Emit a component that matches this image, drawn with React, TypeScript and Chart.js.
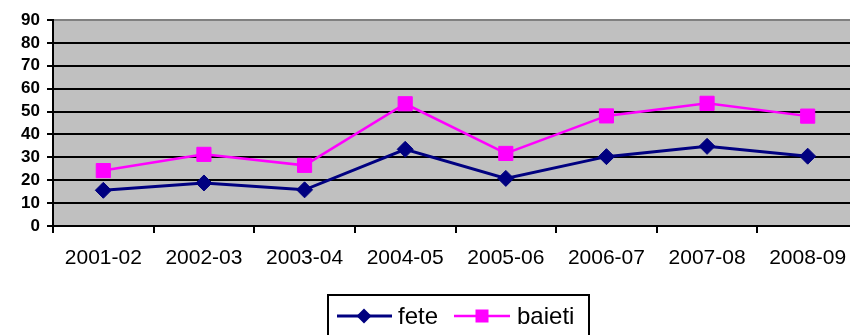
import React, { useEffect, useRef } from "react";
import { Chart, registerables } from "chart.js";

Chart.register(...registerables);

const categories = ["2001-02", "2002-03", "2003-04", "2004-05", "2005-06", "2006-07", "2007-08", "2008-09"];
const feteValues = [15.6, 18.8, 15.8, 33.5, 20.8, 30.3, 34.8, 30.5];
const baietiValues = [24.2, 31.3, 26.5, 53.4, 31.7, 48.1, 53.6, 48.0];
const seriesLabels = ["fete", "baieti"];
const yTicks = { min: 0, max: 90, step: 10 };

const FONT = "'Liberation Sans', Arial, sans-serif";
const NAVY = "#000080";
const MAGENTA = "#FF00FF";

const bgPlugin = {
  id: "plotBg",
  beforeDraw(chart: any) {
    const { ctx, chartArea } = chart;
    ctx.save();
    ctx.fillStyle = "#C0C0C0";
    ctx.fillRect(chartArea.left, chartArea.top, chartArea.right - chartArea.left, chartArea.bottom - chartArea.top);
    ctx.restore();
  },
};

const legendPlugin = {
  id: "boxLegend",
  afterDraw(chart: any) {
    const ctx = chart.ctx;
    const ds = chart.data.datasets;
    ctx.save();
    ctx.strokeStyle = "#000";
    ctx.lineWidth = 2;
    ctx.strokeRect(328, 295, 261, 50);
    const y = 316;
    ctx.font = `24px ${FONT}`;
    ctx.textBaseline = "alphabetic";
    ctx.fillStyle = "#000";
    // fete
    ctx.strokeStyle = ds[0].borderColor;
    ctx.lineWidth = 3;
    ctx.beginPath();
    ctx.moveTo(337, y);
    ctx.lineTo(392, y);
    ctx.stroke();
    ctx.fillStyle = ds[0].backgroundColor;
    ctx.beginPath();
    ctx.moveTo(364 - 7.5, y);
    ctx.lineTo(364, y - 7.5);
    ctx.lineTo(364 + 7.5, y);
    ctx.lineTo(364, y + 7.5);
    ctx.closePath();
    ctx.fill();
    ctx.fillStyle = "#000";
    ctx.fillText(ds[0].label, 398, 324);
    // baieti
    ctx.strokeStyle = ds[1].borderColor;
    ctx.lineWidth = 2.5;
    ctx.beginPath();
    ctx.moveTo(454, y);
    ctx.lineTo(510, y);
    ctx.stroke();
    ctx.fillStyle = ds[1].backgroundColor;
    ctx.fillRect(482 - 6.5, y - 6.5, 13, 13);
    ctx.fillStyle = "#000";
    ctx.fillText(ds[1].label, 517, 324);
    ctx.restore();
  },
};

export default function App() {
  const ref = useRef<HTMLCanvasElement | null>(null);
  useEffect(() => {
    if (!ref.current) return;
    const chart = new Chart(ref.current, {
      type: "line",
      data: {
        labels: categories,
        datasets: [
          {
            label: seriesLabels[0],
            data: feteValues,
            borderColor: NAVY,
            backgroundColor: NAVY,
            borderWidth: 3,
            pointStyle: "rectRot",
            pointRadius: 8,
            pointBorderWidth: 1,
            pointBorderColor: NAVY,
            pointBackgroundColor: NAVY,
            tension: 0,
          },
          {
            label: seriesLabels[1],
            data: baietiValues,
            borderColor: MAGENTA,
            backgroundColor: MAGENTA,
            borderWidth: 2.5,
            pointStyle: "rect",
            pointRadius: 10,
            pointBorderWidth: 1,
            pointBorderColor: MAGENTA,
            pointBackgroundColor: MAGENTA,
            tension: 0,
          },
        ],
      },
      options: {
        responsive: false,
        animation: false,
        layout: { padding: { top: 20, right: 12, bottom: 79, left: 0 } },
        plugins: { legend: { display: false }, tooltip: { enabled: false }, title: { display: false } },
        scales: {
          x: {
            offset: true,
            grid: {
              offset: true,
              drawOnChartArea: false,
              drawTicks: true,
              tickLength: 7,
              color: "#000",
              tickColor: "#000",
              lineWidth: 2,
            },
            border: { display: true, color: "#000", width: 2 },
            ticks: { color: "#000", font: { family: FONT, size: 21 }, padding: 13, maxRotation: 0, autoSkip: false },
            afterFit(scale: any) {
              scale.height = 40;
            },
          },
          y: {
            min: yTicks.min,
            max: yTicks.max,
            ticks: {
              stepSize: yTicks.step,
              autoSkip: false,
              color: "#000",
              font: { family: FONT, size: 17, weight: "bold" },
              padding: 7,
            },
            grid: {
              color: (c: any) => (c.tick && c.tick.value === yTicks.max ? "#808080" : "#000"),
              tickColor: "#000",
              lineWidth: 2,
              tickLength: 6,
            },
            border: { display: true, color: "#000", width: 2 },
            afterFit(scale: any) {
              scale.width = 53;
            },
          },
        },
      },
      plugins: [bgPlugin, legendPlugin],
    });
    return () => chart.destroy();
  }, []);
  return (
    <div style={{ position: "fixed", left: 0, top: 0, width: 850, height: 335, overflow: "hidden", background: "#fff" }}>
      <canvas ref={ref} width={870} height={345} style={{ display: "block" }} />
    </div>
  );
}
